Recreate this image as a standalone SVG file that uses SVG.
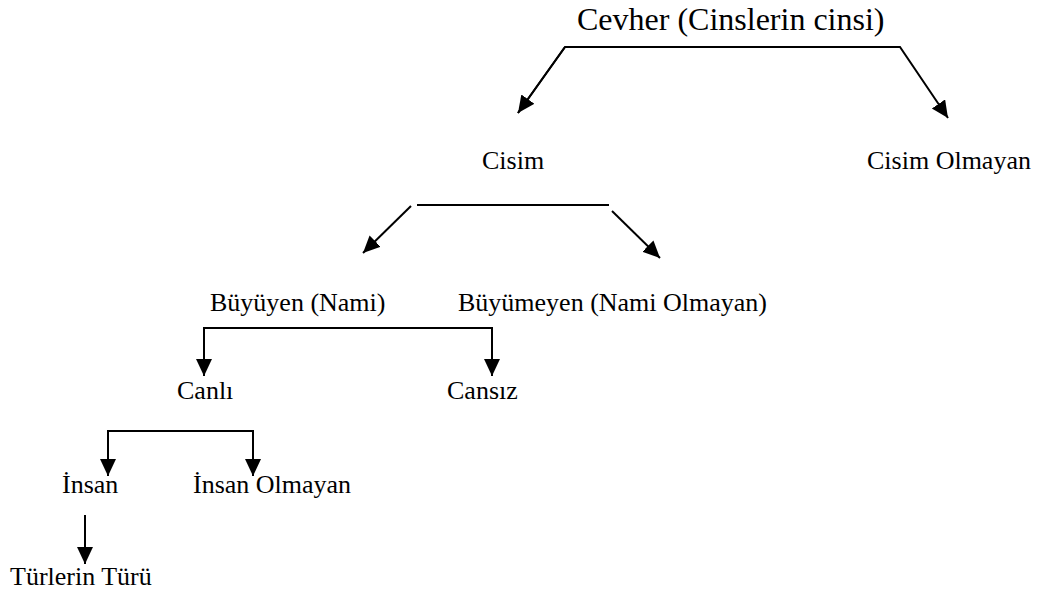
<svg xmlns="http://www.w3.org/2000/svg" width="1041" height="594" viewBox="0 0 1041 594">
<style>
text{font-family:"Liberation Serif","Times New Roman",serif;fill:#000}
.lbl{font-size:26px}
.title{font-size:32px}
.c{fill:none;stroke:#000;stroke-width:2}
</style>
<defs>
<marker id="ah" markerUnits="userSpaceOnUse" markerWidth="18" markerHeight="18" refX="17" refY="8" orient="auto">
<path d="M0,0 L17,8 L0,16 z" fill="#000"/>
</marker>
</defs>
<rect width="1041" height="594" fill="#fff"/>
<g id="connectors">
<polyline class="c" points="518,113 565,47 900,47 948,118" marker-end="url(#ah)"/>
<line class="c" x1="565" y1="47" x2="518" y2="113" marker-end="url(#ah)"/>
<line class="c" x1="417" y1="205" x2="609" y2="205"/>
<line class="c" x1="411" y1="206" x2="363" y2="253" marker-end="url(#ah)"/>
<line class="c" x1="612" y1="211" x2="660" y2="258" marker-end="url(#ah)"/>
<polyline class="c" points="204,370 204,328 492,328 492,370"/>
<line class="c" x1="204" y1="340" x2="204" y2="376" marker-end="url(#ah)"/>
<line class="c" x1="492" y1="340" x2="492" y2="376" marker-end="url(#ah)"/>
<polyline class="c" points="108,470 108,431 253,431 253,470"/>
<line class="c" x1="108" y1="450" x2="108" y2="476" marker-end="url(#ah)"/>
<line class="c" x1="253" y1="450" x2="253" y2="476" marker-end="url(#ah)"/>
<line class="c" x1="85" y1="515" x2="85" y2="564" marker-end="url(#ah)"/>
</g>
<g id="cevher"><text class="title" x="577" y="30">Cevher (Cinslerin cinsi)</text></g>
<g id="cisim"><text class="lbl" x="482" y="169">Cisim</text></g>
<g id="cisim-olmayan"><text class="lbl" x="867" y="169">Cisim Olmayan</text></g>
<g id="buyuyen"><text class="lbl" x="210" y="311">Büyüyen (Nami)</text></g>
<g id="buyumeyen"><text class="lbl" x="458" y="311">Büyümeyen (Nami Olmayan)</text></g>
<g id="canli"><text class="lbl" x="177" y="399">Canlı</text></g>
<g id="cansiz"><text class="lbl" x="447" y="399">Cansız</text></g>
<g id="insan"><text class="lbl" x="62" y="493">İnsan</text></g>
<g id="insan-olmayan"><text class="lbl" x="193" y="493">İnsan Olmayan</text></g>
<g id="turlerin-turu"><text class="lbl" x="10" y="585">Türlerin Türü</text></g>
</svg>
